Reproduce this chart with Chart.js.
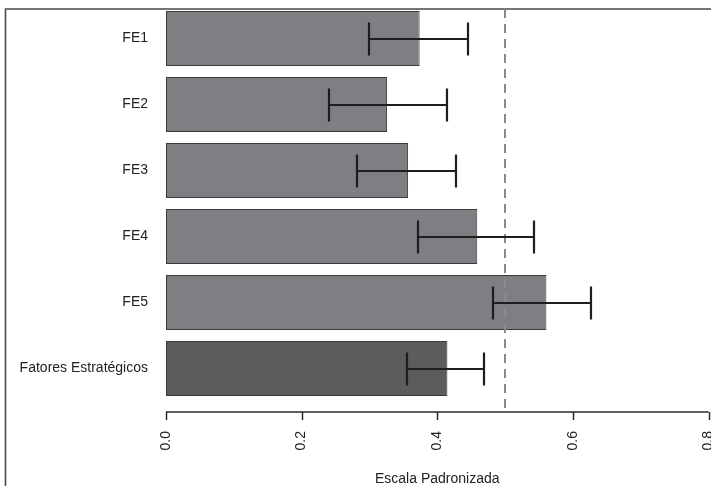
<!DOCTYPE html>
<html>
<head>
<meta charset="utf-8">
<script src="https://cdn.jsdelivr.net/npm/chart.js@4/dist/chart.umd.min.js"></script>
<style>
  html, body { margin: 0; padding: 0; background: #ffffff; }
  #wrap { width: 711px; height: 486px; }
</style>
</head>
<body>
<div id="wrap"><canvas id="c" width="711" height="486"></canvas></div>
<script>
// Factor labels, top to bottom
const categories = ['FE1', 'FE2', 'FE3', 'FE4', 'FE5', 'Fatores Estratégicos'];
// Standardised scores (bar length)
const scores = [0.374, 0.326, 0.357, 0.459, 0.561, 0.415];
// Interval limits for each factor
const lowerLimits = [0.300, 0.241, 0.282, 0.372, 0.482, 0.355];
const upperLimits = [0.445, 0.415, 0.428, 0.542, 0.626, 0.469];
// Horizontal axis ticks and reference line
const xTicks = [0.0, 0.2, 0.4, 0.6, 0.8];
const referenceValue = 0.5;

const barColors = categories.map((c, i) => i === categories.length - 1 ? '#5c5c5e' : '#7f7f83');
const FONT = '"Liberation Sans", Arial, Helvetica, sans-serif';
const AXIS_GAP = 10.5;   // distance between plot region and the drawn x axis line

// Page frame, background, offset x axis, reference line and interval bars
const decorations = {
  id: 'decorations',
  beforeDraw(chart) {
    const ctx = chart.ctx;
    ctx.save();
    ctx.fillStyle = '#ffffff';
    ctx.fillRect(0, 0, chart.width, chart.height);
    ctx.strokeStyle = '#4a4a4a';
    ctx.lineWidth = 1.6;
    ctx.beginPath();
    ctx.moveTo(5.5, chart.height);
    ctx.lineTo(5.5, 9);
    ctx.lineTo(chart.width, 9);
    ctx.stroke();
    ctx.restore();
  },
  afterDatasetsDraw(chart) {
    const ctx = chart.ctx;
    const xs = chart.scales.x;
    const area = chart.chartArea;
    const axisY = area.bottom + AXIS_GAP;

    ctx.save();
    // x axis line with tick marks
    ctx.strokeStyle = '#2a2a2a';
    ctx.lineWidth = 1.5;
    ctx.beginPath();
    ctx.moveTo(xs.getPixelForValue(xTicks[0]), axisY);
    ctx.lineTo(xs.getPixelForValue(xTicks[xTicks.length - 1]), axisY);
    xTicks.forEach(v => {
      const px = Math.round(xs.getPixelForValue(v)) + 0.5;
      ctx.moveTo(px, axisY);
      ctx.lineTo(px, axisY + 8);
    });
    ctx.stroke();

    // dashed reference line
    const rx = Math.round(xs.getPixelForValue(referenceValue));
    ctx.strokeStyle = '#8a8a8a';
    ctx.lineWidth = 2;
    ctx.setLineDash([9, 6]);
    ctx.beginPath();
    ctx.moveTo(rx, 9);
    ctx.lineTo(rx, axisY);
    ctx.stroke();
    ctx.setLineDash([]);

    // interval bars
    const meta = chart.getDatasetMeta(0);
    ctx.strokeStyle = '#1e1e1e';
    ctx.lineWidth = 2.2;
    meta.data.forEach((bar, i) => {
      const y = Math.round(bar.y);
      const half = bar.height * 0.3;
      const x1 = Math.round(xs.getPixelForValue(lowerLimits[i]));
      const x2 = Math.round(xs.getPixelForValue(upperLimits[i]));
      ctx.beginPath();
      ctx.moveTo(x1, y);
      ctx.lineTo(x2, y);
      ctx.moveTo(x1, y - half);
      ctx.lineTo(x1, y + half);
      ctx.moveTo(x2, y - half);
      ctx.lineTo(x2, y + half);
      ctx.stroke();
    });
    ctx.restore();
  }
};

new Chart(document.getElementById('c'), {
  type: 'bar',
  data: {
    labels: categories,
    datasets: [{
      data: scores,
      backgroundColor: barColors,
      borderColor: '#3a3a3a',
      borderWidth: 1,
      borderSkipped: false,
      categoryPercentage: 1,
      barPercentage: 55 / 66
    }]
  },
  options: {
    indexAxis: 'y',
    responsive: false,
    animation: false,
    devicePixelRatio: 1,
    layout: { padding: { top: 5.5, right: 2.5, bottom: 0, left: 0 } },
    plugins: { legend: { display: false }, tooltip: { enabled: false } },
    scales: {
      x: {
        type: 'linear',
        min: xTicks[0],
        max: xTicks[xTicks.length - 1],
        afterBuildTicks(scale) { scale.ticks = xTicks.map(v => ({ value: v })); },
        afterFit(scale) {
          scale.height = 84.5;
          scale.paddingLeft = 0;
          scale.paddingRight = 0;
        },
        grid: { display: false, drawTicks: false },
        border: { display: false },
        ticks: {
          minRotation: 90,
          maxRotation: 90,
          padding: 29.5,
          color: '#222222',
          font: { family: FONT, size: 14 },
          callback: v => Number(v).toFixed(1)
        },
        title: {
          display: true,
          text: 'Escala Padronizada',
          color: '#222222',
          font: { family: FONT, size: 14, lineHeight: 1 },
          padding: { top: 0, bottom: 0 }
        }
      },
      y: {
        type: 'category',
        afterFit(scale) {
          scale.width = 166;
          scale.paddingTop = 0;
          scale.paddingBottom = 0;
        },
        grid: { display: false, drawTicks: false },
        border: { display: false },
        ticks: {
          padding: 18,
          color: '#222222',
          font: { family: FONT, size: 14 }
        }
      }
    }
  },
  plugins: [decorations]
});
</script>
</body>
</html>
